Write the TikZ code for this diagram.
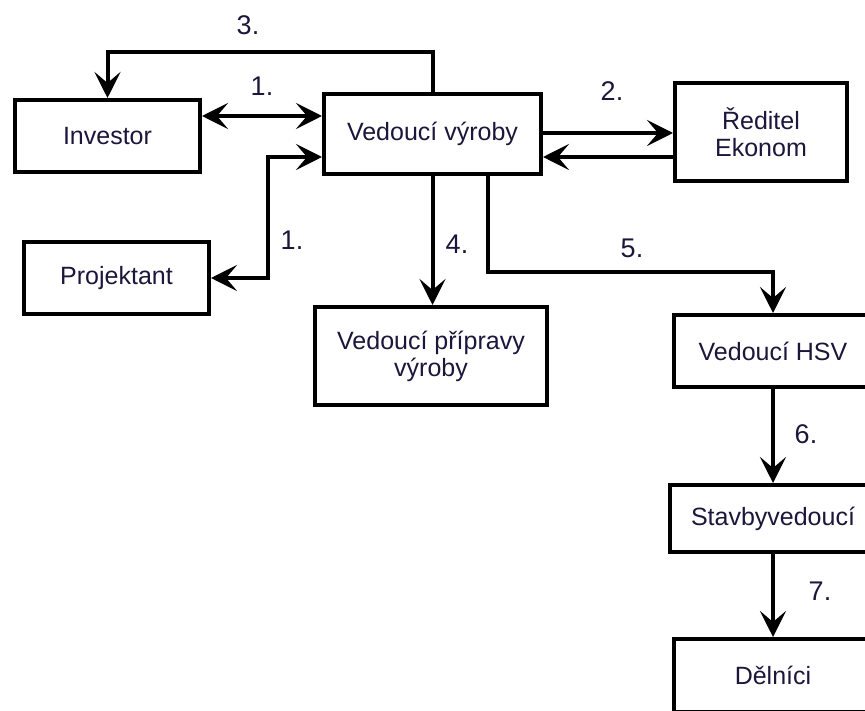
\documentclass[tikz,border=0pt]{standalone}
\usepackage{fontspec}
\setmainfont{Liberation Sans}
\usetikzlibrary{arrows.meta}
\definecolor{ink}{RGB}{28,22,58}
\begin{document}
\begin{tikzpicture}[x=1pt,y=-1pt,
  box/.style={draw=black, line width=4pt, fill=white, text=ink,
    font=\fontsize{25}{27}\selectfont, align=center, inner sep=0pt},
  link/.style={line width=4pt, draw=black},
  >={Stealth[length=26pt,width=26pt,inset=11pt]},
  lbl/.style={text=ink, font=\fontsize{27}{30}\selectfont, inner sep=0pt}]
\useasboundingbox (0,0) rectangle (865,711);
\begin{scope}
\clip (0,0) rectangle (865,711);
% boxes
\node[box, minimum width=185pt, minimum height=72pt] (inv) at (107.5,136) {Investor};
\node[box, minimum width=217pt, minimum height=80pt] (vv) at (432.5,134) {Vedoucí výroby};
\node[box, minimum width=172pt, minimum height=98pt] (red) at (761,132) {Ředitel\\Ekonom};
\node[box, minimum width=185pt, minimum height=72pt] (proj) at (116.5,278) {Projektant};
\node[box, minimum width=232pt, minimum height=98pt] (vpv) at (431,356) {Vedoucí přípravy\\výroby};
\node[box, minimum width=198pt, minimum height=72pt] (hsv) at (773,351) {Vedoucí HSV};
\node[box, minimum width=206pt, minimum height=67pt] (stav) at (773,518.5) {Stavbyvedoucí};
\node[box, minimum width=198pt, minimum height=73pt] (del) at (773,675.5) {Dělníci};
% connectors
\draw[link,->] (vv.north) -- (vv.north |- 0,52) -| (inv.north);
\draw[link,<->] (inv.east |- 0,116) -- (vv.west |- 0,116);
\draw[link,<->] (proj.east) -- (268,278) |- (vv.west |- 0,157);
\draw[link,->] (vv.east |- 0,133) -- (red.west |- 0,133);
\draw[link,->] (red.west |- 0,157) -- (vv.east |- 0,157);
\draw[link,->] (vv.south) -- (vv.south |- vpv.north);
\draw[link,->] (vv.south -| 488,0) -- (488,272) -| (hsv.north);
\draw[link,->] (hsv.south) -- (stav.north);
\draw[link,->] (stav.south) -- (del.north);
% step numbers
\node[lbl] (l3) at (248,25) {3.};
\node[lbl] (l1a) at (262,86) {1.};
\node[lbl] (l1b) at (292,240) {1.};
\node[lbl] (l2) at (612,91) {2.};
\node[lbl] (l4) at (457,244) {4.};
\node[lbl] (l5) at (632,248) {5.};
\node[lbl] (l6) at (806,434) {6.};
\node[lbl] (l7) at (820,591) {7.};
\end{scope}
\end{tikzpicture}
\end{document}
